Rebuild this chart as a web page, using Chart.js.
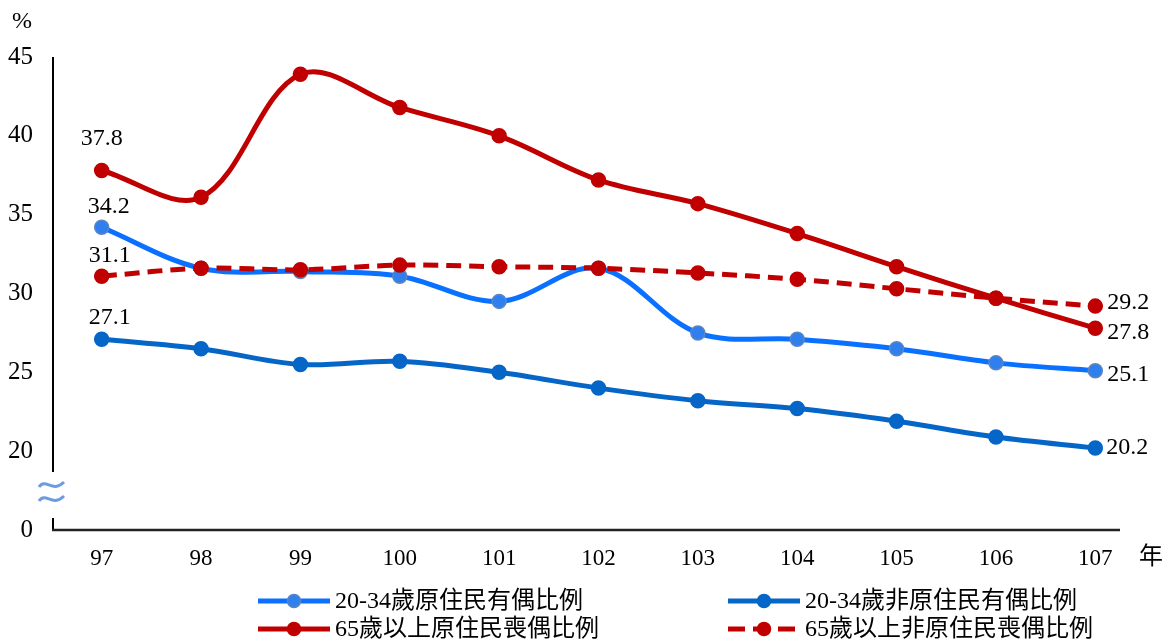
<!DOCTYPE html>
<html>
<head>
<meta charset="utf-8">
<script src="https://cdn.jsdelivr.net/npm/chart.js@4.4.1/dist/chart.umd.min.js"></script>
<style>
  html, body { margin: 0; padding: 0; background: #fff; }
  #wrap { position: relative; width: 1170px; height: 644px; }
</style>
</head>
<body>
<div id="wrap"><canvas id="c" width="1170" height="644"></canvas></div>
<script>
// ---- data ----
const categories = ['97', '98', '99', '100', '101', '102', '103', '104', '105', '106', '107'];
const seriesNames = ['20-34歲原住民有偶比例', '20-34歲非原住民有偶比例', '65歲以上原住民喪偶比例', '65歲以上非原住民喪偶比例'];
const aborigMarried = [34.2, 31.6, 31.4, 31.1, 29.5, 31.6, 27.5, 27.1, 26.5, 25.6, 25.1];
const nonAborigMarried = [27.1, 26.5, 25.5, 25.7, 25.0, 24.0, 23.2, 22.7, 21.9, 20.9, 20.2];
const aborigWidowed = [37.8, 36.1, 43.9, 41.8, 40.0, 37.2, 35.7, 33.8, 31.7, 29.7, 27.8];
const nonAborigWidowed = [31.1, 31.6, 31.5, 31.8, 31.7, 31.6, 31.3, 30.9, 30.3, 29.7, 29.2];
const yTickValues = [15, 20, 25, 30, 35, 40, 45];
const yTickLabels = ['0', '20', '25', '30', '35', '40', '45'];
const yUnit = '%';
const xUnit = '年';

// ---- styles ----
const LIGHT = '#0A70FF';
const DARK = '#0566C8';
const RED = '#C00000';
const SERIF = "'Liberation Serif', 'Times New Roman', serif";
const LEGFONT = "'Liberation Serif', 'Noto Sans CJK TC', serif";

const labelOffsets = [
  { first: [7, -21], last: [12, 4] },
  { first: [8, -22], last: [11, 0] },
  { first: [0, -32], last: [12, 5] },
  { first: [8, -20], last: [12, -3] }
];

const decor = {
  id: 'decor',
  afterDatasetsDraw(chart) {
    const ctx = chart.ctx;
    const area = chart.chartArea;
    ctx.save();
    // y axis with break
    ctx.strokeStyle = '#000';
    ctx.lineWidth = 2;
    ctx.beginPath();
    ctx.moveTo(area.left + 1, area.top);
    ctx.lineTo(area.left + 1, 472);
    ctx.moveTo(area.left + 1, 518);
    ctx.lineTo(area.left + 1, area.bottom);
    ctx.stroke();
    // x axis
    ctx.strokeStyle = '#222';
    ctx.lineWidth = 2.5;
    ctx.beginPath();
    ctx.moveTo(area.left, area.bottom);
    ctx.lineTo(1120, area.bottom);
    ctx.stroke();
    // break symbol
    ctx.strokeStyle = '#6C9BE0';
    ctx.lineWidth = 3;
    [485, 499].forEach(cy => {
      ctx.beginPath();
      ctx.moveTo(39, cy + 2);
      ctx.bezierCurveTo(46, cy - 8, 52, cy + 9, 64, cy - 3);
      ctx.stroke();
    });
    // unit labels
    ctx.fillStyle = '#000';
    ctx.font = '24px ' + SERIF;
    ctx.textAlign = 'center';
    ctx.textBaseline = 'middle';
    ctx.fillText(yUnit, 22, 22);
    ctx.font = '24px ' + LEGFONT;
    ctx.fillText(xUnit, 1151, 558);

    // data labels on first & last points
    ctx.font = '24px ' + SERIF;
    chart.data.datasets.forEach((ds, di) => {
      const meta = chart.getDatasetMeta(di);
      const n = ds.data.length;
      const p0 = meta.data[0], pN = meta.data[n - 1];
      const o = labelOffsets[di];
      ctx.textAlign = 'center';
      ctx.fillText(ds.data[0].toFixed(1), p0.x + o.first[0], p0.y + o.first[1]);
      ctx.textAlign = 'left';
      ctx.fillText(ds.data[n - 1].toFixed(1), pN.x + o.last[0], pN.y + o.last[1]);
    });

    // legend
    const items = [
      { x: 258, y: 601, color: LIGHT, pt: '#2F7FEE', ptBorder: '#5B86C0', dash: [] },
      { x: 728, y: 601, color: DARK, pt: DARK, ptBorder: DARK, dash: [] },
      { x: 258, y: 629, color: RED, pt: RED, ptBorder: RED, dash: [] },
      { x: 728, y: 629, color: RED, pt: RED, ptBorder: RED, dash: [17, 8] }
    ];
    items.forEach((it, i) => {
      ctx.strokeStyle = it.color;
      ctx.lineWidth = 5;
      ctx.setLineDash(it.dash);
      ctx.lineCap = 'butt';
      ctx.beginPath();
      ctx.moveTo(it.x, it.y);
      ctx.lineTo(it.x + 72, it.y);
      ctx.stroke();
      ctx.setLineDash([]);
      ctx.fillStyle = it.pt;
      ctx.strokeStyle = it.ptBorder;
      ctx.lineWidth = 1.5;
      ctx.beginPath();
      ctx.arc(it.x + 36, it.y, 6.5, 0, Math.PI * 2);
      ctx.fill();
      ctx.stroke();
      ctx.fillStyle = '#000';
      ctx.font = '24px ' + LEGFONT;
      ctx.textAlign = 'left';
      ctx.textBaseline = 'middle';
      ctx.fillText(seriesNames[i], it.x + 77, it.y + 1);
    });
    ctx.restore();
  }
};

function ds(label, data, color, ptFill, ptBorder, dash, order) {
  return {
    label, data,
    borderColor: color,
    backgroundColor: color,
    borderWidth: 5,
    borderDash: dash,
    pointRadius: 7,
    pointBackgroundColor: ptFill,
    pointBorderColor: ptBorder,
    pointBorderWidth: 1.5,
    tension: 0.35,
    order
  };
}

new Chart(document.getElementById('c'), {
  type: 'line',
  data: {
    labels: categories,
    datasets: [
      ds(seriesNames[0], aborigMarried, LIGHT, '#2F7FEE', '#5B86C0', [], 3),
      ds(seriesNames[1], nonAborigMarried, DARK, DARK, DARK, [], 2),
      ds(seriesNames[2], aborigWidowed, RED, RED, RED, [], 1),
      ds(seriesNames[3], nonAborigWidowed, RED, RED, RED, [15, 8], 0)
    ]
  },
  options: {
    responsive: false,
    animation: false,
    devicePixelRatio: 1,
    layout: { padding: { left: 0, right: 25, top: 57, bottom: 0 } },
    plugins: { legend: { display: false }, tooltip: { enabled: false } },
    scales: {
      x: {
        offset: true,
        grid: { display: false, drawTicks: false },
        border: { display: false },
        ticks: { color: '#000', font: { family: SERIF, size: 23 }, padding: 15, maxRotation: 0 },
        afterFit: s => { s.height = 114; }
      },
      y: {
        min: 15, max: 45,
        grid: { display: false, drawTicks: false },
        border: { display: false },
        afterBuildTicks: s => { s.ticks = yTickValues.map(v => ({ value: v })); },
        ticks: {
          color: '#000', font: { family: SERIF, size: 25 }, padding: 19,
          callback: v => yTickLabels[yTickValues.indexOf(v)]
        },
        afterFit: s => { s.width = 52; }
      }
    }
  },
  plugins: [decor]
});
</script>
</body>
</html>
